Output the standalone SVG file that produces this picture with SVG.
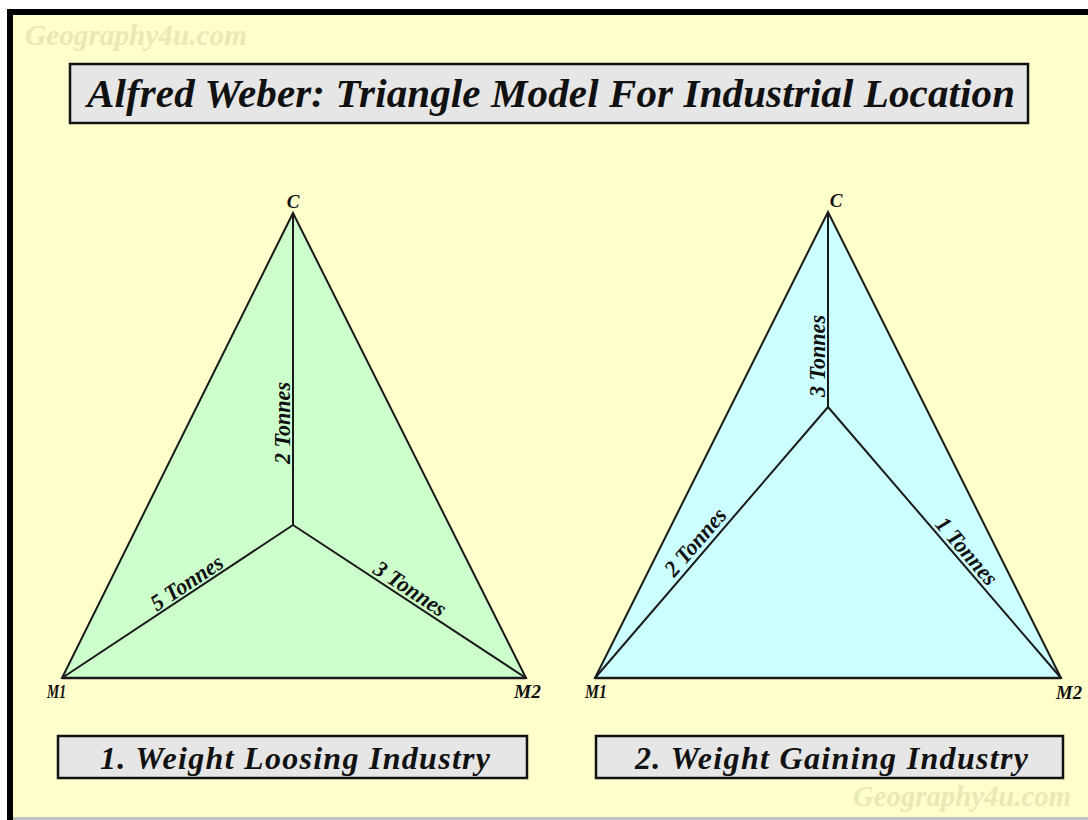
<svg xmlns="http://www.w3.org/2000/svg" width="1088" height="820" viewBox="0 0 1088 820">
<style>
.t{font-family:"Liberation Serif","Times New Roman",serif;font-weight:bold;font-style:italic;fill:#111}
.wm{font-family:"Liberation Serif","Times New Roman",serif;font-weight:bold;font-style:italic;fill:#E9E9B6;font-size:29px}
.box{fill:#E6E6E6;stroke:#111;stroke-width:2.5}
.edge{fill:none;stroke:#1a1a1a;stroke-width:2;stroke-linejoin:miter}
.lbl{font-size:23px}
.v{font-size:19px}
</style>
<rect x="0" y="0" width="1088" height="820" fill="#ffffff"/>
<rect x="7" y="9" width="1081" height="811" fill="#000000"/>
<rect x="13" y="15" width="1075" height="802" fill="#FFFFCC"/>
<rect x="13" y="817" width="1075" height="3" fill="#BFC4BF"/>
<text class="wm" x="25" y="45" textLength="222" lengthAdjust="spacingAndGlyphs">Geography4u.com</text>
<text class="wm" x="853" y="806" textLength="218" lengthAdjust="spacingAndGlyphs">Geography4u.com</text>

<g id="title">
<rect class="box" x="70" y="64" width="958" height="59"/>
<text class="t" x="87" y="107" font-size="41" textLength="928" lengthAdjust="spacing">Alfred Weber: Triangle Model For Industrial Location</text>
</g>

<g id="triangle1">
<polygon points="293,213 62,678 526,678" fill="#CCFFCC" stroke="none"/>
<text class="t v" x="293" y="208" text-anchor="middle">C</text>
<text class="t v" x="47" y="698" textLength="19" lengthAdjust="spacingAndGlyphs">M1</text>
<text class="t v" x="514" y="698" textLength="27" lengthAdjust="spacingAndGlyphs">M2</text>
</g>

<g id="triangle2">
<polygon points="828,212 595,678 1061,678" fill="#CCFFFF" stroke="none"/>
<text class="t v" x="836" y="207" text-anchor="middle">C</text>
<text class="t v" x="585" y="698" textLength="22" lengthAdjust="spacingAndGlyphs">M1</text>
<text class="t v" x="1056" y="699" textLength="26" lengthAdjust="spacingAndGlyphs">M2</text>
</g>

<g id="connectors">
<polygon class="edge" points="293,213 62,678 526,678"/>
<line class="edge" x1="293" y1="213" x2="293" y2="525"/>
<line class="edge" x1="62" y1="678" x2="293" y2="525"/>
<line class="edge" x1="293" y1="525" x2="526" y2="678"/>
<line x1="62" y1="678" x2="526" y2="678" stroke="#1a1a1a" stroke-width="2.5"/>
<polygon class="edge" points="828,212 595,678 1061,678"/>
<line class="edge" x1="828" y1="212" x2="828" y2="407"/>
<line class="edge" x1="595" y1="678" x2="828" y2="407"/>
<line class="edge" x1="828" y1="407" x2="1061" y2="678"/>
<line x1="595" y1="678" x2="1061" y2="678" stroke="#1a1a1a" stroke-width="2.5"/>
</g>

<g id="edge-labels">
<text class="t lbl" text-anchor="middle" transform="translate(290,423) rotate(-90)" textLength="82" lengthAdjust="spacingAndGlyphs">2 Tonnes</text>
<text class="t lbl" text-anchor="middle" transform="translate(191,589) rotate(-33.5)" textLength="82" lengthAdjust="spacingAndGlyphs">5 Tonnes</text>
<text class="t lbl" text-anchor="middle" transform="translate(406,595) rotate(33.3)" textLength="82" lengthAdjust="spacingAndGlyphs">3 Tonnes</text>
<text class="t lbl" text-anchor="middle" transform="translate(825,356) rotate(-90)" textLength="82" lengthAdjust="spacingAndGlyphs">3 Tonnes</text>
<text class="t lbl" text-anchor="middle" transform="translate(701,547) rotate(-49.3)" textLength="82" lengthAdjust="spacingAndGlyphs">2 Tonnes</text>
<text class="t lbl" text-anchor="middle" transform="translate(961,556) rotate(49.3)" textLength="82" lengthAdjust="spacingAndGlyphs">1 Tonnes</text>
</g>

<g id="caption1">
<rect class="box" x="58" y="736" width="469" height="42"/>
<text class="t" x="100" y="769" font-size="32" textLength="390" lengthAdjust="spacing">1. Weight Loosing Industry</text>
</g>

<g id="caption2">
<rect class="box" x="596" y="736" width="467" height="42"/>
<text class="t" x="635" y="769" font-size="32" textLength="393" lengthAdjust="spacing">2. Weight Gaining Industry</text>
</g>
</svg>
